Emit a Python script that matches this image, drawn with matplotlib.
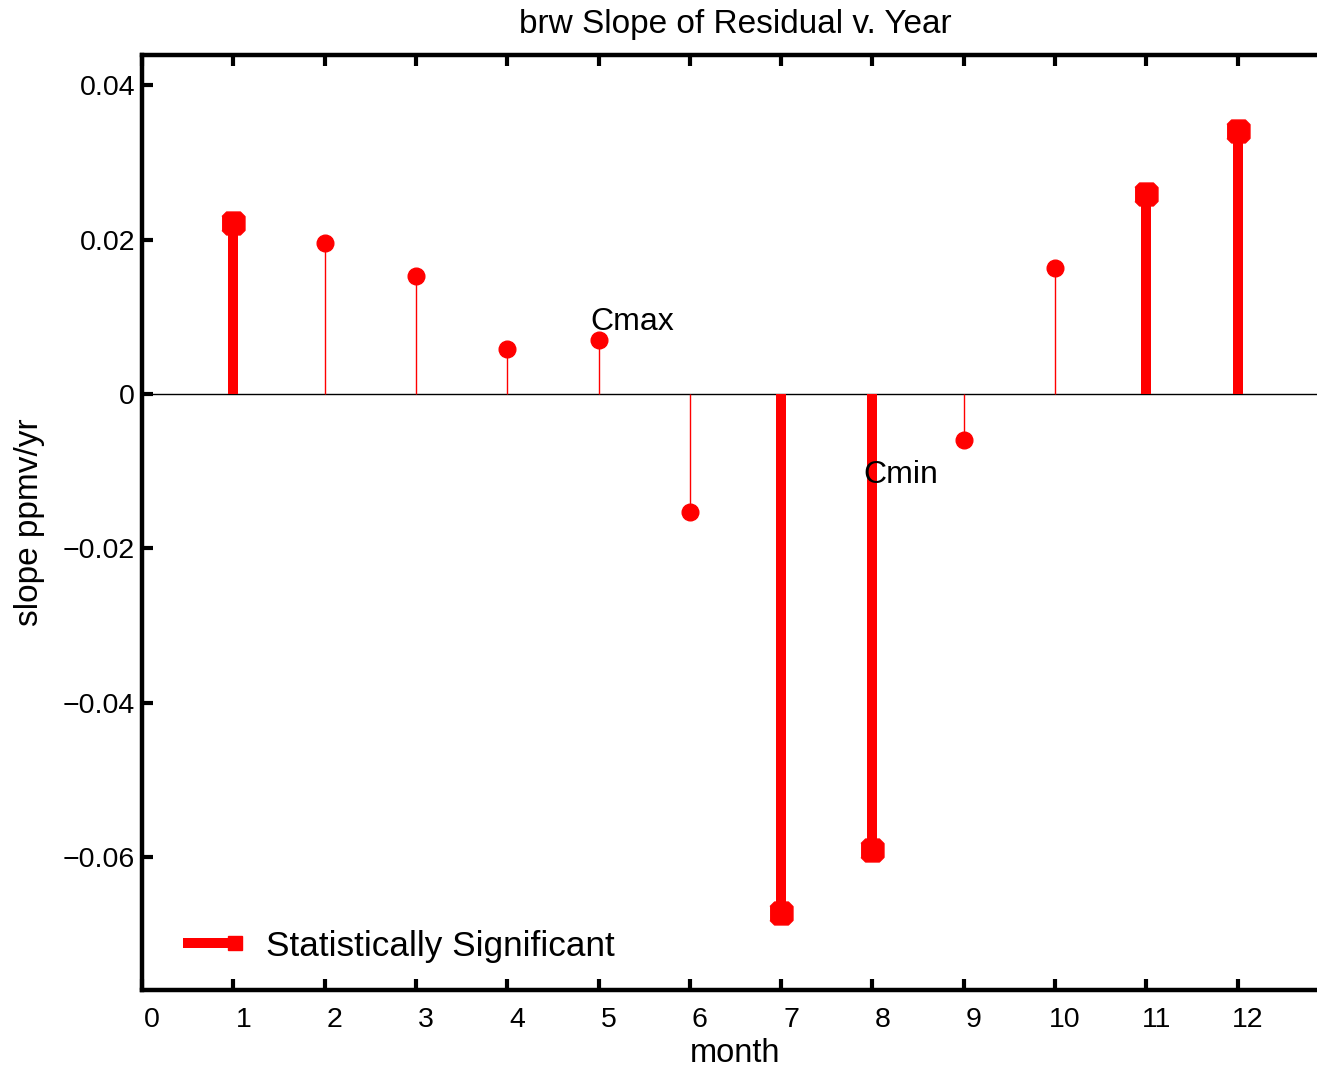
import matplotlib
matplotlib.use('Agg')
import matplotlib.pyplot as plt
import numpy as np
from matplotlib.legend_handler import HandlerLine2DCompound
from matplotlib.lines import Line2D
from matplotlib.transforms import ScaledTranslation

# data
months = [1, 2, 3, 4, 5, 6, 7, 8, 9, 10, 11, 12]
slopes = [0.0221, 0.0195, 0.0153, 0.0058, 0.0070, -0.0153,
          -0.0672, -0.0591, -0.0060, 0.0163, 0.0259, 0.0340]
significant = [True, False, False, False, False, False,
               True, True, False, False, True, True]
xticks = list(range(0, 13))
yticks = [-0.06, -0.04, -0.02, 0, 0.02, 0.04]
ytick_labels = ['\u22120.06', '\u22120.04', '\u22120.02', '0', '0.02', '0.04']

RED = '#ff0000'
# square with clipped corners, like the low-res MATLAB marker
OCT = [(-1, -0.6), (-0.6, -1), (0.6, -1), (1, -0.6),
       (1, 0.6), (0.6, 1), (-0.6, 1), (-1, 0.6)]


class EndMarkerHandler(HandlerLine2DCompound):
    # put the legend marker at the right end of the line sample
    def get_xdata(self, legend, xdescent, ydescent, width, height, fontsize):
        xdata = np.array([-xdescent, -xdescent + width])
        xmark = np.array([-xdescent + width - 5.0])
        return xdata, xmark


plt.rcParams['font.family'] = 'Liberation Sans'

fig = plt.figure(figsize=(13.17, 10.71), dpi=100)
ax = fig.add_axes([0.1078, 0.0756, 0.9013, 0.873])

sig_x = [m for m, s in zip(months, significant) if s]
sig_y = [v for v, s in zip(slopes, significant) if s]
ns_x = [m for m, s in zip(months, significant) if not s]
ns_y = [v for v, s in zip(slopes, significant) if not s]

ax.axhline(0, color='k', lw=1.0, zorder=1)

ml, sl, bl = ax.stem(ns_x, ns_y, basefmt=' ')
sl.set_color(RED)
sl.set_linewidth(1.0)
ml.set_color(RED)
ml.set_marker('o')
ml.set_markersize(12)
bl.set_visible(False)

ml2, sl2, bl2 = ax.stem(sig_x, sig_y, basefmt=' ')
sl2.set_color(RED)
sl2.set_linewidth(7.2)
ml2.set_color(RED)
ml2.set_marker(OCT)
ml2.set_markersize(16.5)
bl2.set_visible(False)

ax.text(4.91, 0.0083, 'Cmax', fontsize=23, ha='left', va='baseline')
ax.text(7.90, -0.0115, 'Cmin', fontsize=23, ha='left', va='baseline')

ax.set_xlim(0, 13)
ax.set_ylim(-0.0772, 0.0439)
ax.set_xticks(xticks)
ax.set_yticks(yticks)
ax.set_yticklabels(ytick_labels)

for sp in ax.spines.values():
    sp.set_linewidth(3.2)
ax.tick_params(direction='in', length=8, width=3, top=True, right=True,
               labelsize=20.5)
ax.tick_params(axis='x', pad=12)
ax.tick_params(axis='y', pad=5)

shift = ScaledTranslation(10 / 100, 0, fig.dpi_scale_trans)
for lab in ax.get_xticklabels():
    lab.set_transform(lab.get_transform() + shift)

ax.set_title('brw Slope of Residual v. Year', fontsize=24, pad=16)
ax.set_xlabel('month', fontsize=23.5)
ax.set_ylabel('slope ppmv/yr', fontsize=24)
ax.xaxis.set_label_coords(0.5, -0.051)
ax.yaxis.set_label_coords(-0.082, 0.5)

proxy = Line2D([], [], color=RED, lw=7.2, marker='s', markersize=10,
               solid_capstyle='butt', label='Statistically Significant')
ax.legend(handles=[proxy], loc='center left', bbox_to_anchor=(0.0345, 0.047),
          frameon=False, fontsize=25.3, handlelength=1.68, handletextpad=0.68,
          borderpad=0, borderaxespad=0, numpoints=1,
          handler_map={Line2D: EndMarkerHandler()})

fig.savefig('out.png', dpi=100)
